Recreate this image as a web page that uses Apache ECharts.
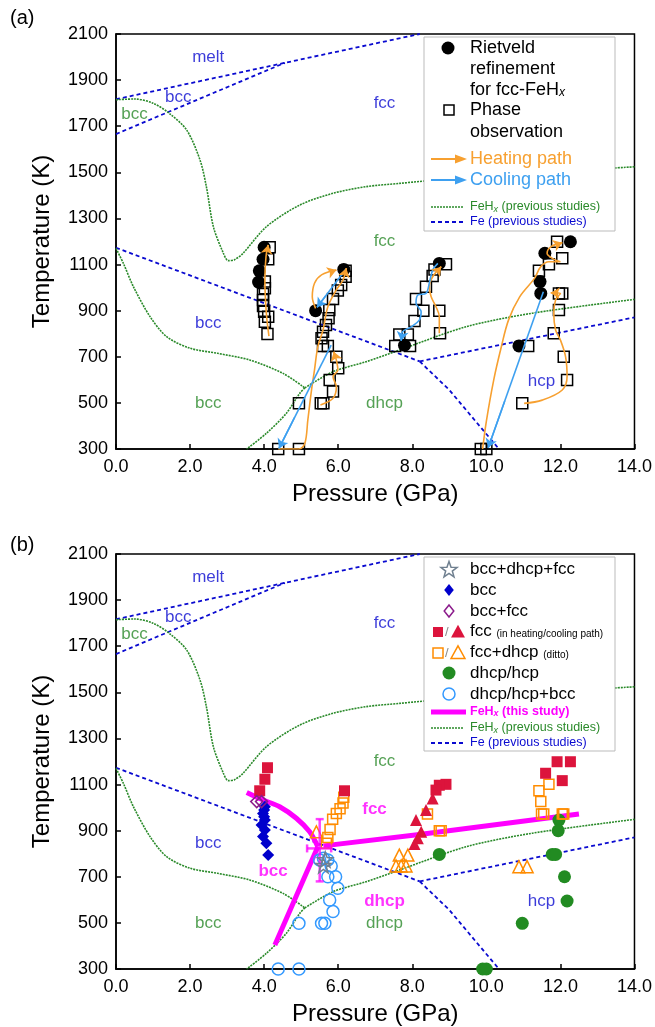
<!DOCTYPE html>
<html>
<head>
<meta charset="UTF-8">
<title>FeHx phase diagram</title>
<script src="https://cdn.jsdelivr.net/npm/echarts@6/dist/echarts.min.js"></script>
<style>
  html, body { margin: 0; padding: 0; background: #fff; }
  #main { width: 655px; height: 1027px; }
</style>
</head>
<body>
<div id="main"></div>
<script type="text/javascript">
var FONT = 'Liberation Sans, Arial, sans-serif';
var BLUE = '#0a0ad0', GREEN = '#2a8a2a', ORANGE = '#f7a030', SKY = '#3ea0f0', MAG = '#ff00ff';

// Fe phase boundaries, previous studies  [P (GPa), T (K)]
var feMeltA = [[0, 1817], [4.56, 1975], [8.2, 2100]];
var feMeltB = [[0, 1666], [4.56, 1975]];
var feBccFcc = [[0, 1173], [8.2, 680]];
var feFccHcp = [[8.2, 680], [14, 871]];
var feBccHcp = [[8.2, 680], [9.0, 556], [10.34, 300]];

// FeHx phase boundaries, previous studies
var fehxFcc = [[0, 1815], [0.5, 1818], [1.0, 1800], [1.46, 1753], [1.91, 1683], [2.27, 1553], [2.44, 1438],
  [2.63, 1264], [2.9, 1149], [3.03, 1117], [3.2, 1121], [3.43, 1149], [4.06, 1264], [4.96, 1358],
  [5.86, 1409], [6.76, 1438], [7.65, 1452], [9.0, 1472], [10.5, 1490], [12.0, 1505], [14, 1524]];
var fehxBcc = [[0, 1170], [0.2, 1105], [0.47, 1004], [0.92, 874], [1.37, 787], [2.0, 737], [2.74, 715],
  [3.61, 686], [4.51, 628], [5.1, 565]];
var fehxDhcpFcc = [[5.1, 565], [5.86, 635], [6.76, 679], [7.65, 729], [9.45, 830], [11.24, 889], [14, 949]];
var fehxBccDhcp = [[5.1, 565], [4.96, 541], [4.6, 455], [4.06, 368], [3.53, 300]];

// (a) observations
var rietveld = [[4.0, 1175], [3.97, 1123], [3.87, 1073], [3.85, 1024], [5.39, 900], [6.15, 1079], [7.79, 750],
  [8.73, 1105], [12.27, 1199], [11.58, 1149], [11.45, 1026], [11.47, 975], [10.88, 747]];
var phaseObs = [[4.15, 1175], [4.11, 1123], [4.02, 1026], [4.02, 997], [3.97, 972], [3.97, 946], [3.97, 920],
  [4.0, 895], [4.11, 874], [4.02, 852], [4.09, 799],
  [6.2, 1073], [6.2, 1047], [6.08, 1011], [5.99, 987], [5.86, 951], [5.76, 903], [5.74, 867], [5.67, 838],
  [5.59, 809], [5.55, 780], [5.59, 747], [5.72, 747], [5.95, 700], [6.0, 650], [5.77, 599], [5.86, 549],
  [4.94, 498], [5.53, 498], [5.6, 498], [4.38, 300], [4.94, 300],
  [7.54, 747], [7.65, 797], [7.88, 797], [8.1, 951], [7.94, 747], [8.91, 1101], [8.6, 1079], [8.55, 1050],
  [8.37, 1004], [8.3, 900], [8.73, 900], [8.06, 855], [8.75, 802],
  [11.91, 1199], [12.05, 1127], [11.69, 1101], [11.42, 1073], [12.05, 975], [11.96, 975], [11.96, 903],
  [11.82, 802], [11.13, 747], [12.09, 700], [12.18, 599], [10.97, 498], [9.85, 300], [10.0, 300]];

// (a) heating / cooling paths
var heatPaths = [
  [[4.13, 790], [4.06, 888], [4.02, 1033], [4.05, 1134], [4.11, 1185]],
  [[5.39, 910], [5.3, 960], [5.36, 1019], [5.55, 1055], [5.95, 1076]],
  [[4.38, 300], [4.94, 300], [5.1, 325], [5.18, 426], [5.28, 556], [5.36, 643], [5.45, 744], [5.59, 816],
    [5.72, 917], [5.95, 990], [6.13, 1033], [6.22, 1084]],
  [[5.52, 491], [5.86, 520], [5.95, 570], [5.86, 613], [5.99, 643], [5.95, 686], [5.88, 722]],
  [[8.73, 802], [8.73, 874], [8.64, 917], [8.51, 960], [8.46, 1004], [8.55, 1047], [8.78, 1091]],
  [[9.9, 300], [10.0, 420], [10.2, 600], [10.4, 740], [10.6, 860], [10.9, 960], [11.3, 1040], [11.47, 1091],
    [11.69, 1112], [12.0, 1112], [11.78, 1127], [11.64, 1149], [11.74, 1177], [12.05, 1195]],
  [[11.02, 498], [11.51, 512], [12.05, 556], [12.18, 614], [12.14, 700], [12.0, 773], [11.87, 816],
    [11.82, 889], [11.87, 946], [12.0, 975], [11.74, 978]]
];
var coolPaths = [
  [[6.2, 1079], [5.43, 915]],
  [[5.81, 751], [4.4, 303]],
  [[8.69, 1105], [8.55, 1076], [8.46, 1019], [8.37, 975], [8.15, 968], [8.1, 932], [8.24, 895], [8.19, 859],
    [7.97, 830], [7.74, 809], [7.7, 770]],
  [[11.54, 982], [10.05, 305]]
];

// (b) phase identification
var stars = [[5.6, 750], [5.65, 775]];
var bccPts = [[4.02, 1004], [4.0, 990], [3.97, 975], [4.0, 960], [4.02, 946], [3.93, 925], [4.02, 903],
  [3.97, 875], [4.06, 845], [4.11, 794]];
var bccFccPts = [[3.8, 1026], [3.93, 1026]];
var fccHeat = [[4.09, 1173], [4.02, 1123], [3.88, 1073], [6.17, 1073], [8.91, 1101], [8.73, 1097], [8.64, 1076],
  [11.91, 1199], [12.27, 1199], [11.6, 1149], [12.05, 1117]];
var fccCool = [[8.55, 1040], [8.37, 990], [8.1, 946], [8.24, 895], [8.15, 867], [8.06, 842]];
var fccDhcpHeat = [[6.15, 1045], [6.13, 1020], [6.05, 995], [5.95, 975], [5.85, 950], [5.78, 905], [5.72, 870],
  [5.68, 845], [8.41, 972], [8.73, 900], [8.78, 900], [11.42, 1073], [11.69, 1101], [11.47, 1026],
  [11.49, 972], [11.55, 972], [12.05, 972], [12.09, 972]];
var fccDhcpCool = [[5.41, 895], [7.65, 794], [7.88, 794], [7.56, 747], [7.7, 747], [7.83, 747], [10.88, 744], [11.1, 744]];
var dhcpPts = [[8.73, 797], [11.96, 946], [11.94, 900], [11.78, 797], [11.87, 797], [12.11, 700], [12.18, 595],
  [10.97, 498], [9.9, 300], [10.0, 300]];
var dhcpBccPts = [[4.38, 300], [4.94, 300], [4.94, 498], [5.55, 498], [5.64, 498], [5.86, 549], [5.77, 599],
  [5.99, 650], [5.93, 700], [5.72, 700], [5.81, 747], [5.5, 773], [5.72, 773], [5.6, 780]];

// FeHx boundaries, this study
var thisBccFcc = [[3.53, 1066], [3.97, 1033], [4.42, 1004], [4.87, 954], [5.23, 895], [5.45, 830]];
var thisBccDhcp = [[5.45, 830], [4.29, 404]];
var thisDhcpFcc = [[5.6, 834], [8.19, 883], [12.5, 972]];
var triplePoint = [[5.5, 823, 5.16, 5.81, 680, 950]]; // P, T, Pmin, Pmax, Tmin, Tmax

// phase field labels
var labelsBlue = [[2.49, 2001, 'melt'], [1.68, 1827, 'bcc'], [7.25, 1800, 'fcc'], [2.49, 845, 'bcc'], [11.49, 595, 'hcp']];
var labelsGreen = [[0.5, 1753, 'bcc'], [7.25, 1199, 'fcc'], [2.49, 498, 'bcc'], [7.25, 498, 'dhcp']];
var labelsMag = [[6.98, 993, 'fcc'], [4.24, 725, 'bcc'], [7.25, 592, 'dhcp']];

var series = [];

function line(data, g, color, width, type, smooth, z) {
  series.push({
    type: 'line', xAxisIndex: g, yAxisIndex: g, data: data, showSymbol: false, symbol: 'none',
    smooth: smooth || false, silent: true, z: z || 2,
    lineStyle: { color: color, width: width, type: type }
  });
}
function scatter(data, g, symbol, size, fill, border, z) {
  series.push({
    type: 'scatter', xAxisIndex: g, yAxisIndex: g, data: data, symbol: symbol, symbolSize: size,
    silent: true, z: z || 3,
    itemStyle: { color: fill, borderColor: border || fill, borderWidth: border ? 1.5 : 0, opacity: 1 }
  });
}
function labels(data, g, color, bold) {
  series.push({
    type: 'scatter', xAxisIndex: g, yAxisIndex: g, data: data, symbolSize: 1, silent: true, z: 6,
    itemStyle: { color: 'rgba(0,0,0,0)' },
    label: { show: true, position: 'inside', formatter: function (p) { return p.data[2]; },
      color: color, fontSize: 17, fontWeight: bold ? 'bold' : 'normal', fontFamily: FONT }
  });
}
function arrows(paths, g, color) {
  var segs = paths.map(function (p) {
    var a = p[p.length - 2], b = p[p.length - 1];
    return { coords: [[b[0] + (a[0] - b[0]) * 0.3, b[1] + (a[1] - b[1]) * 0.3], b] };
  });
  series.push({
    type: 'lines', coordinateSystem: 'cartesian2d', xAxisIndex: g, yAxisIndex: g, data: segs, silent: true,
    symbol: ['none', 'arrow'], symbolSize: 9, z: 5,
    lineStyle: { color: color, width: 1.5, opacity: 1 }
  });
}

var dashed = [4, 3], dotted = [2, 1];
[0, 1].forEach(function (g) {
  [feMeltA, feMeltB, feBccFcc, feFccHcp, feBccHcp].forEach(function (d) { line(d, g, BLUE, 1.8, dashed); });
  line(fehxFcc, g, GREEN, 1.6, dotted, 0.3);
  line(fehxBcc, g, GREEN, 1.6, dotted, 0.3);
  line(fehxDhcpFcc, g, GREEN, 1.6, dotted, 0.3);
  line(fehxBccDhcp, g, GREEN, 1.6, dotted, 0.3);
  labels(labelsBlue, g, BLUE);
  labels(labelsGreen, g, GREEN);
});

// panel (a)
scatter(phaseObs, 0, 'rect', 11, 'rgba(255,255,255,0)', '#000', 3);
scatter(rietveld, 0, 'circle', 13, '#000', null, 3);
heatPaths.forEach(function (p) { line(p, 0, ORANGE, 1.6, 'solid', 0.35, 4); });
coolPaths.forEach(function (p) { line(p, 0, SKY, 1.6, 'solid', 0.35, 4); });
arrows(heatPaths, 0, ORANGE);
arrows(coolPaths, 0, SKY);

// panel (b)
line(thisBccFcc, 1, MAG, 5, 'solid', 0.3, 3);
line(thisBccDhcp, 1, MAG, 5, 'solid', false, 3);
line(thisDhcpFcc, 1, MAG, 5, 'solid', false, 3);
series.push({
  type: 'custom', xAxisIndex: 1, yAxisIndex: 1, data: triplePoint, silent: true, z: 4,
  renderItem: function (params, api) {
    var p = api.value(0), t = api.value(1);
    var top = api.coord([p, api.value(5)]), bot = api.coord([p, api.value(4)]);
    var lft = api.coord([api.value(2), t]), rgt = api.coord([api.value(3), t]);
    var st = { stroke: 'rgba(255,0,255,0.75)', lineWidth: 2.5 };
    var c = 4;
    return { type: 'group', children: [
      { type: 'line', shape: { x1: top[0], y1: top[1], x2: bot[0], y2: bot[1] }, style: st },
      { type: 'line', shape: { x1: lft[0], y1: lft[1], x2: rgt[0], y2: rgt[1] }, style: st },
      { type: 'line', shape: { x1: top[0] - c, y1: top[1], x2: top[0] + c, y2: top[1] }, style: st },
      { type: 'line', shape: { x1: bot[0] - c, y1: bot[1], x2: bot[0] + c, y2: bot[1] }, style: st },
      { type: 'line', shape: { x1: lft[0], y1: lft[1] - c, x2: lft[0], y2: lft[1] + c }, style: st },
      { type: 'line', shape: { x1: rgt[0], y1: rgt[1] - c, x2: rgt[0], y2: rgt[1] + c }, style: st }
    ] };
  }
});
function starPath(r1, r2) {
  var s = 'path://';
  for (var i = 0; i < 10; i++) {
    var r = i % 2 ? r2 : r1, a = Math.PI / 5 * i - Math.PI / 2;
    s += (i ? 'L' : 'M') + (r * Math.cos(a)).toFixed(2) + ',' + (r * Math.sin(a)).toFixed(2);
  }
  return s + 'Z';
}
scatter(dhcpBccPts, 1, 'circle', 12, 'rgba(255,255,255,0)', '#3399ff', 3);
scatter(dhcpPts, 1, 'circle', 13, '#228b22', null, 3);
scatter(fccDhcpHeat, 1, 'rect', 10, 'rgba(255,255,255,0)', '#ff8c00', 3);
scatter(fccDhcpCool, 1, 'triangle', 12, 'rgba(255,255,255,0)', '#ff8c00', 3);
scatter(fccHeat, 1, 'rect', 11, '#dc143c', null, 3);
scatter(fccCool, 1, 'triangle', 12, '#dc143c', null, 3);
scatter(bccPts, 1, 'diamond', 12, '#0000cc', null, 3);
scatter(bccFccPts, 1, 'diamond', 12, 'rgba(255,255,255,0)', '#8b1a8b', 3);
scatter(stars, 1, starPath(10, 4), 15, 'rgba(255,255,255,0)', '#708090', 4);
labels(labelsMag, 1, MAG, true);

// legends drawn as graphic elements
var g = [];
function txt(x, y, s, size, color, rich, weight) {
  g.push({ type: 'text', x: x, y: y, z: 102, silent: true,
    style: { text: s, fontSize: size, fontFamily: FONT, fill: color, fontWeight: weight || 'normal',
      align: 'left', verticalAlign: 'middle', rich: rich } });
}
function hline(x1, x2, y, color, w, dash) {
  g.push({ type: 'line', z: 101, silent: true, shape: { x1: x1, y1: y, x2: x2, y2: y },
    style: { stroke: color, lineWidth: w, lineDash: dash || null } });
}
function tri(cx, cy, h, fill, stroke) {
  g.push({ type: 'polygon', z: 101, silent: true,
    shape: { points: [[cx, cy - h * 0.6], [cx + h * 0.58, cy + h * 0.45], [cx - h * 0.58, cy + h * 0.45]] },
    style: { fill: fill, stroke: stroke || null, lineWidth: 1.5 } });
}
function sq(cx, cy, s, fill, stroke) {
  g.push({ type: 'rect', z: 101, silent: true, shape: { x: cx - s / 2, y: cy - s / 2, width: s, height: s },
    style: { fill: fill, stroke: stroke || null, lineWidth: 1.5 } });
}
function dia(cx, cy, r, fill, stroke) {
  g.push({ type: 'polygon', z: 101, silent: true,
    shape: { points: [[cx, cy - r], [cx + r * 0.8, cy], [cx, cy + r], [cx - r * 0.8, cy]] },
    style: { fill: fill, stroke: stroke || null, lineWidth: 1.5 } });
}
function circ(cx, cy, r, fill, stroke) {
  g.push({ type: 'circle', z: 101, silent: true, shape: { cx: cx, cy: cy, r: r },
    style: { fill: fill, stroke: stroke || null, lineWidth: 1.5 } });
}
function arrowKey(y, color) {
  hline(431, 458, y, color, 2);
  g.push({ type: 'polygon', z: 101, silent: true,
    shape: { points: [[455, y - 4.5], [467, y], [455, y + 4.5]] }, style: { fill: color } });
}
var sub = { x: { fontSize: 9, fontStyle: 'italic', verticalAlign: 'bottom', fontFamily: FONT } };
var subBig = { x: { fontSize: 12, fontStyle: 'italic', verticalAlign: 'bottom', fontFamily: FONT } };

// (a)
g.push({ type: 'rect', z: 100, silent: true, shape: { x: 424, y: 37, width: 191, height: 194 },
  style: { fill: '#fff', stroke: '#bbb', lineWidth: 1 } });
circ(448, 48, 6.5, '#000');
txt(470, 48, 'Rietveld', 18, '#000');
txt(470, 69, 'refinement', 18, '#000');
txt(470, 90, 'for fcc-FeH{x|x}', 18, '#000', subBig);
sq(449, 110, 10, '#fff', '#000');
txt(470, 110, 'Phase', 18, '#000');
txt(470, 132, 'observation', 18, '#000');
arrowKey(159, ORANGE);
txt(470, 159, 'Heating path', 18, ORANGE);
arrowKey(180, SKY);
txt(470, 180, 'Cooling path', 18, SKY);
hline(431, 463, 207, GREEN, 1.5, dotted);
txt(470, 207, 'FeH{x|x} (previous studies)', 12.5, GREEN, sub);
hline(431, 463, 222, BLUE, 2, dashed);
txt(470, 222, 'Fe (previous studies)', 12.5, BLUE);

// (b)
g.push({ type: 'rect', z: 100, silent: true, shape: { x: 424, y: 557, width: 191, height: 194 },
  style: { fill: '#fff', stroke: '#bbb', lineWidth: 1 } });
(function () {
  var pts = [];
  for (var i = 0; i < 10; i++) {
    var r = i % 2 ? 3.5 : 8.5, a = Math.PI / 5 * i - Math.PI / 2;
    pts.push([449 + r * Math.cos(a), 570 + r * Math.sin(a)]);
  }
  g.push({ type: 'polygon', z: 101, silent: true, shape: { points: pts },
    style: { fill: 'none', stroke: '#708090', lineWidth: 1.5 } });
})();
txt(470, 569, 'bcc+dhcp+fcc', 17, '#000');
dia(449, 590, 6, '#0000cc');
txt(470, 590, 'bcc', 17, '#000');
dia(449, 611, 6, 'none', '#8b1a8b');
txt(470, 611, 'bcc+fcc', 17, '#000');
sq(438, 632, 10, '#dc143c');
txt(445, 632, '/', 13, '#888');
tri(458, 632, 12, '#dc143c');
txt(470, 631, 'fcc {s|(in heating/cooling path)}', 17, '#000', { s: { fontSize: 10, fontFamily: FONT, verticalAlign: 'bottom' } });
sq(438, 653, 10, 'none', '#ff8c00');
txt(445, 653, '/', 13, '#888');
tri(458, 653, 12, 'none', '#ff8c00');
txt(470, 652, 'fcc+dhcp {s|(ditto)}', 17, '#000', { s: { fontSize: 10, fontFamily: FONT, verticalAlign: 'bottom' } });
circ(449, 673, 6.5, '#228b22');
txt(470, 673, 'dhcp/hcp', 17, '#000');
circ(449, 694, 6, 'none', '#3399ff');
txt(470, 694, 'dhcp/hcp+bcc', 17, '#000');
hline(431, 466, 712, MAG, 5);
txt(470, 712, 'FeH{x|x} (this study)', 12.5, MAG, { x: { fontSize: 9, fontStyle: 'italic', fontWeight: 'bold', verticalAlign: 'bottom', fontFamily: FONT } }, 'bold');
hline(431, 463, 728, GREEN, 1.5, dotted);
txt(470, 728, 'FeH{x|x} (previous studies)', 12.5, GREEN, sub);
hline(431, 463, 743, BLUE, 2, dashed);
txt(470, 743, 'Fe (previous studies)', 12.5, BLUE);

txt(10, 18, '(a)', 20, '#000');
txt(10, 545, '(b)', 20, '#000');

function xAx(i) {
  return {
    gridIndex: i, type: 'value', min: 0, max: 14, interval: 2,
    name: 'Pressure (GPa)', nameLocation: 'middle', nameGap: 33,
    nameTextStyle: { fontSize: 24, color: '#000', fontFamily: FONT },
    axisLine: { lineStyle: { color: '#000', width: 1.5 } },
    axisTick: { inside: true, length: 5, lineStyle: { color: '#000', width: 1.5 } },
    axisLabel: { fontSize: 18, color: '#000', margin: 9, fontFamily: FONT,
      formatter: function (v) { return v.toFixed(1); } },
    splitLine: { show: false }
  };
}
function yAx(i) {
  return {
    gridIndex: i, type: 'value', min: 300, max: 2100, interval: 200,
    name: 'Temperature (K)', nameLocation: 'middle', nameGap: 62, nameRotate: 90,
    nameTextStyle: { fontSize: 24, color: '#000', fontFamily: FONT },
    axisLine: { lineStyle: { color: '#000', width: 1.5 } },
    axisTick: { inside: true, length: 5, lineStyle: { color: '#000', width: 1.5 } },
    axisLabel: { fontSize: 18, color: '#000', margin: 8, fontFamily: FONT,
      formatter: function (v) { return String(v); } },
    splitLine: { show: false }
  };
}

var chart = echarts.init(document.getElementById('main'), null, { renderer: 'canvas' });
chart.setOption({
  animation: false,
  backgroundColor: '#fff',
  textStyle: { fontFamily: FONT },
  grid: [
    { left: 116, top: 34, width: 520, height: 415, show: true, borderColor: '#000', borderWidth: 1.5 },
    { left: 116, top: 554, width: 520, height: 415, show: true, borderColor: '#000', borderWidth: 1.5 }
  ],
  xAxis: [xAx(0), xAx(1)],
  yAxis: [yAx(0), yAx(1)],
  series: series,
  graphic: g
});
</script>
</body>
</html>
